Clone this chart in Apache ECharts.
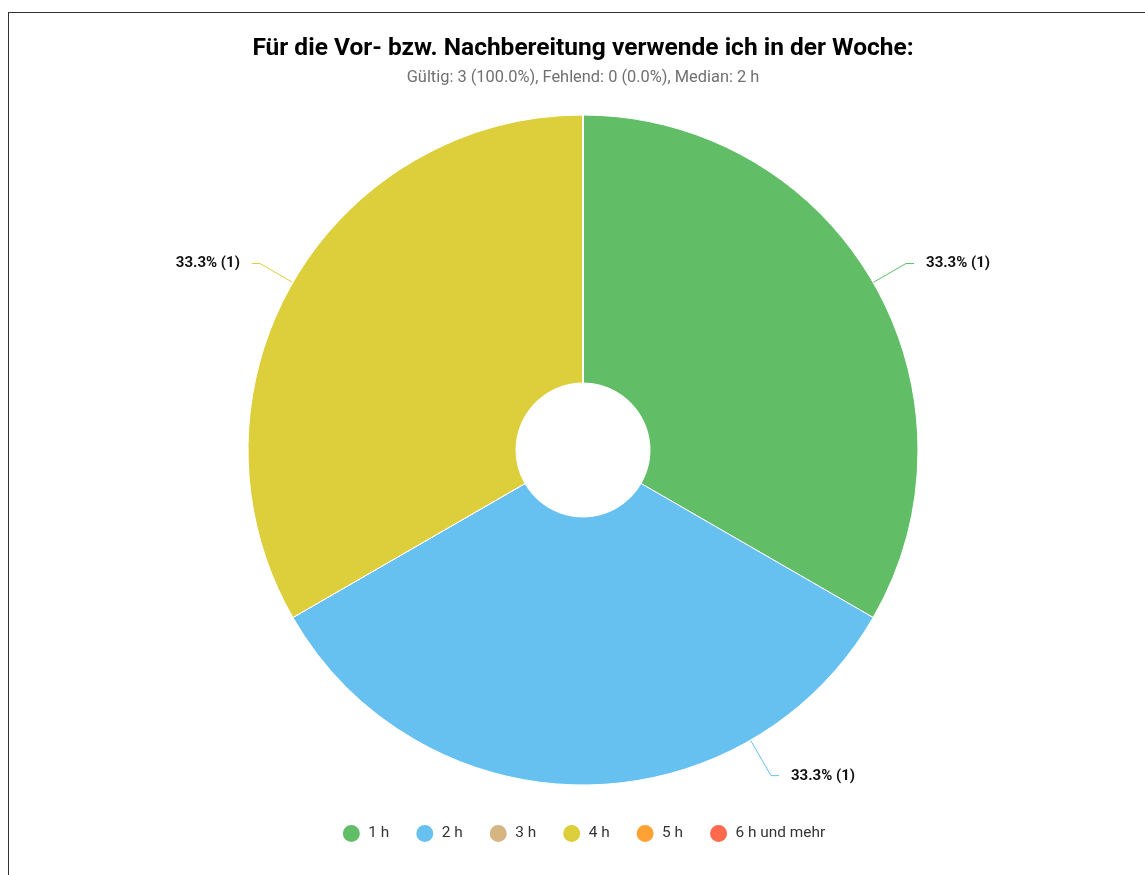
<!DOCTYPE html>
<html>
<head>
<meta charset="utf-8">
<script src="https://cdn.jsdelivr.net/npm/echarts@6/dist/echarts.min.js"></script>
<style>
    html, body { margin: 0; padding: 0; overflow: hidden; background: #fff; }
    #frame { position: absolute; left: 8px; top: 12px; width: 1200px; height: 900px; border: 1px solid #333; pointer-events: none; }
    #chart { position: absolute; left: 0; top: 0; width: 1166px; height: 875px; }
</style>
</head>
<body>
<div id="chart"></div>
<div id="frame"></div>
<script>
// Kategorien und Werte
const categories = ['1 h', '2 h', '3 h', '4 h', '5 h', '6 h und mehr'];
const counts = [1, 1, 0, 1, 0, 0];
const colors = ['#61BE67', '#66C0F0', '#D6B583', '#DDCF3C', '#FFA233', '#FF6A4C'];

const titleText = 'Für die Vor- bzw. Nachbereitung verwende ich in der Woche:';
const subText = 'Gültig: 3 (100.0%), Fehlend: 0 (0.0%), Median: 2 h';

// Geometrie des Kreises
const cx = 583, cy = 450, rIn = 67, rOut = 335;
const len1 = 38, len2 = 8, gap = 12;

let myChart = echarts.init(document.getElementById('chart'));

let pieData = categories.map(function (name, i) {
    return {
        name: name,
        value: counts[i],
        label: { show: counts[i] > 0 },
        labelLine: { show: counts[i] > 0 }
    };
});

// das Label unten wird etwas nach rechts oben gedreht (wie im Original)
function moveBottomLabel(params) {
    let pts = params.labelLinePoints;
    if (!pts || Math.abs(pts[0][0] - cx) > 1 || pts[0][1] < cy) {
        return {};
    }
    let a = 150 * Math.PI / 180;
    let p0 = [cx + rOut * Math.sin(a), cy - rOut * Math.cos(a)];
    let p1 = [cx + (rOut + len1 + 3) * Math.sin(a), cy - (rOut + len1 + 3) * Math.cos(a)];
    let p2 = [p1[0] + len2, p1[1]];
    return {
        x: p2[0] + gap,
        y: p2[1] + 1,
        align: 'left',
        verticalAlign: 'middle',
        labelLinePoints: [p0, p1, p2]
    };
}

let option = {
    color: colors,
    title: {
        text: titleText,
        subtext: subText,
        left: 'center',
        top: 31,
        itemGap: 9,
        textStyle: {
            fontFamily: 'Roboto',
            fontSize: 24.5,
            fontWeight: 'bold',
            color: '#000'
        },
        subtextStyle: {
            fontFamily: 'Roboto',
            fontSize: 16.4,
            color: '#707070'
        }
    },
    legend: {
        data: categories,
        left: 'center',
        top: 818,
        icon: 'circle',
        itemWidth: 24,
        itemHeight: 19,
        itemGap: 25,
        textStyle: {
            fontFamily: 'Roboto',
            fontSize: 15.4,
            color: '#333'
        }
    },
    series: [
        {
            type: 'pie',
            center: [cx, cy],
            radius: [rIn, rOut],
            startAngle: 90,
            clockwise: true,
            avoidLabelOverlap: false,
            itemStyle: {
                borderColor: '#fff',
                borderWidth: 1
            },
            label: {
                position: 'outside',
                fontFamily: 'Roboto',
                fontSize: 15,
                fontWeight: 'bold',
                color: '#111',
                distanceToLabelLine: gap,
                formatter: function (p) {
                    return p.percent.toFixed(1) + '% (' + p.value + ')';
                }
            },
            labelLine: {
                length: len1,
                length2: len2,
                lineStyle: { width: 1 }
            },
            labelLayout: moveBottomLabel,
            emphasis: { scale: false },
            data: pieData
        }
    ]
};
myChart.setOption(option);
</script>
</body>
</html>
